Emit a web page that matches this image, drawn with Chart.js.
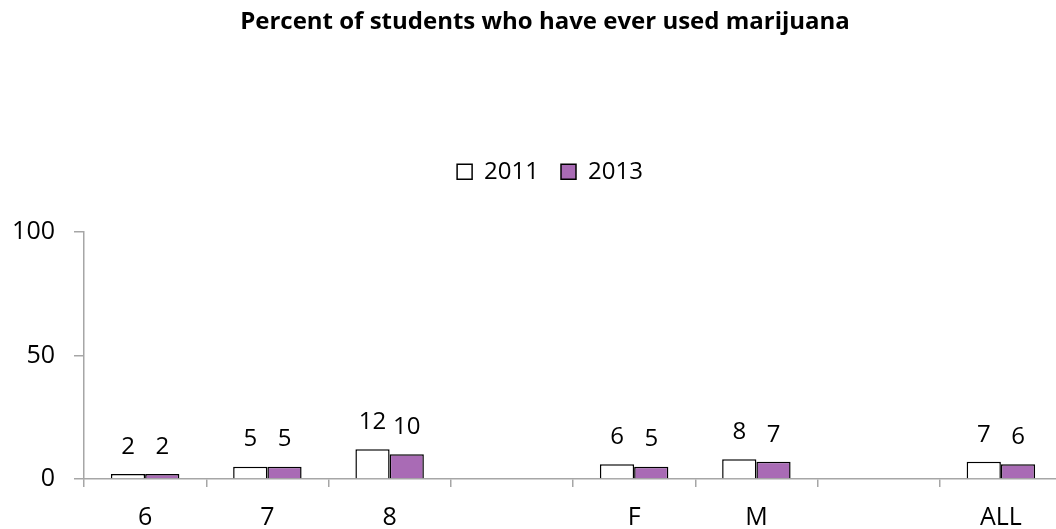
<!DOCTYPE html>
<html>
<head>
<meta charset="utf-8">
<script src="https://cdn.jsdelivr.net/npm/chart.js@4"></script>
<style>
  html, body { margin: 0; padding: 0; background: #fff; overflow: hidden; }
  #wrap { width: 1090px; height: 529px; }
</style>
</head>
<body>
<div id="wrap"><canvas id="marijuanaChart" width="1090" height="529"></canvas></div>
<script>
// data
var categories = ['6', '7', '8', '', 'F', 'M', '', 'ALL'];
var used2011 = [2, 5, 12, null, 6, 8, null, 7];
var used2013 = [2, 5, 10, null, 5, 7, null, 6];
var yTicks = [0, 50, 100];

var axisGray = '#A6A6A6';
Chart.defaults.font.family = '"Open Sans", sans-serif';
Chart.defaults.color = '#000';

// values above each bar
var barValues = {
    id: 'barValues',
    afterDatasetsDraw: function (chart) {
        var ctx = chart.ctx;
        ctx.save();
        ctx.font = '24px "Open Sans", sans-serif';
        ctx.fillStyle = '#000';
        ctx.textAlign = 'center';
        ctx.textBaseline = 'middle';
        chart.data.datasets.forEach(function (ds, i) {
            chart.getDatasetMeta(i).data.forEach(function (bar, j) {
                if (ds.data[j] == null) return;
                ctx.fillText(ds.data[j], bar.x, bar.y - 27);
            });
        });
        ctx.restore();
    }
};

// make room between legend and plot, and nudge title/legend to the right
var legendSpace = {
    id: 'legendSpace',
    beforeInit: function (chart) {
        var origFit = chart.legend.fit;
        chart.legend.fit = function () {
            origFit.bind(chart.legend)();
            this.height = 94;
        };
    },
    afterLayout: function (chart) {
        chart.titleBlock.left += 28;
        chart.legend.left += 38;
    }
};

var ctx = document.getElementById('marijuanaChart').getContext('2d');
var marijuanaChart = new Chart(ctx, {
    type: 'bar',
    data: {
        labels: categories,
        datasets: [{
            label: '2011',
            data: used2011,
            backgroundColor: '#FFFFFF',
            borderColor: '#000000',
            borderWidth: 1.5
        },
        {
            label: '2013',
            data: used2013,
            backgroundColor: '#A96BB5',
            borderColor: '#000000',
            borderWidth: 1.5
        }]
    },
    options: {
        responsive: false,
        animation: false,
        categoryPercentage: 0.56,
        barPercentage: 1,
        layout: { padding: { left: 0, right: 28, top: 0, bottom: 0 } },
        plugins: {
            title: {
                display: true,
                text: 'Percent of students who have ever used marijuana',
                font: { size: 24, weight: 'bold' },
                color: '#000',
                padding: { top: 8, bottom: 101 }
            },
            legend: {
                position: 'top',
                labels: {
                    boxWidth: 15,
                    boxHeight: 15,
                    padding: 22,
                    font: { size: 24 },
                    color: '#000'
                }
            },
            tooltip: { enabled: false }
        },
        scales: {
            x: {
                grid: {
                    offset: true,
                    drawOnChartArea: false,
                    drawTicks: true,
                    tickLength: 8,
                    color: axisGray,
                    lineWidth: 1.5
                },
                border: { color: axisGray, width: 1.5 },
                ticks: { font: { size: 25 }, padding: 16, autoSkip: false, maxRotation: 0 },
                afterFit: function (scale) { scale.height = 50; }
            },
            y: {
                min: 0,
                max: 100,
                afterBuildTicks: function (scale) {
                    scale.ticks = yTicks.map(function (v) { return { value: v }; });
                },
                grid: {
                    drawOnChartArea: false,
                    drawTicks: true,
                    tickLength: 10,
                    color: axisGray,
                    lineWidth: 1.5
                },
                border: { color: axisGray, width: 1.5 },
                ticks: { font: { size: 25 }, padding: 19 },
                afterFit: function (scale) { scale.width = 84; }
            }
        }
    },
    plugins: [barValues, legendSpace]
});
</script>
</body>
</html>
